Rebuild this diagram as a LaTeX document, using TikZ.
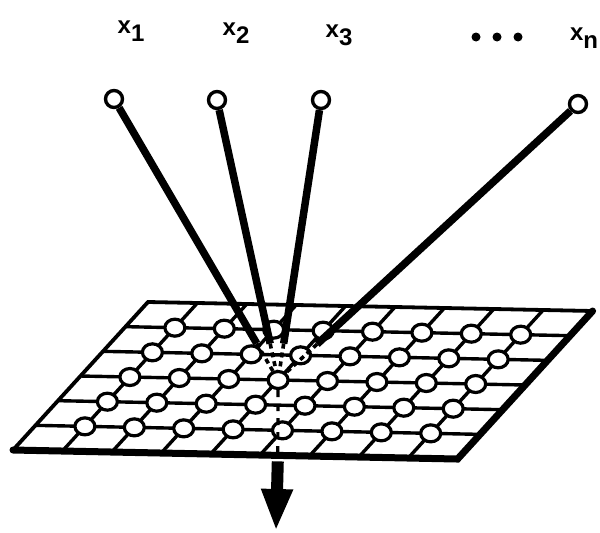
\documentclass[tikz,border=0pt]{standalone}
\usepackage{fontspec}
\setmainfont{Liberation Sans}[BoldFont={Liberation Sans Bold}]
\usetikzlibrary{arrows.meta,calc,shapes.geometric}

\newcommand{\inlab}[1]{x\raisebox{-.32em}{#1}}

\begin{document}
\begin{tikzpicture}[
  x=1pt, y=-1pt,
  gridline/.style={line width=3.4pt},
  rimthin/.style={line width=3.8pt, line cap=round},
  rimthick/.style={line width=7pt, line cap=round},
  cell/.style={ellipse, draw, fill=white, line width=3.2pt,
    minimum width=20pt, minimum height=17pt, inner sep=0pt},
  innode/.style={circle, draw, fill=white, line width=3.4pt,
    minimum size=17pt, inner sep=0pt},
  wire/.style={line width=7.5pt},
  wiredash/.style={line width=3.6pt, dash pattern=on 5pt off 4pt},
  dropdash/.style={line width=3.2pt, dash pattern=on 7pt off 7pt},
  outarrow/.style={line width=12pt, -{Triangle[length=42pt,width=29pt]}},
  inlabel/.style={font=\bfseries\fontsize{24}{28}\selectfont},
  dotmark/.style={circle, fill, minimum size=9pt, inner sep=0pt},
]
\useasboundingbox (0,0) rectangle (600,533);

% ---- the plane of units -------------------------------------------------
\begin{scope}[shift={(148,302)}, x={(49.4pt,-1pt)}, y={(-22.5pt,-24.67pt)}]
  \foreach \i in {1,...,5} \draw[gridline] (0,\i) -- (9,\i);
  \foreach \j in {1,...,8} \draw[gridline] (\j,0) -- (\j,6);
  \draw[rimthin]  (0,6) -- (0,0) -- (9,0);
  \draw[rimthick] (9,0) -- (9,6) -- (0,6);
  \foreach \j in {1,...,8}
    \foreach \i in {1,...,5}
      \node[cell] (c-\j-\i) at (\j,\i) {};
  \coordinate (drop) at (5.36,6);
\end{scope}

% ---- inputs --------------------------------------------------------------
\node[innode] (in1) at (114,99) {};
\node[innode] (in2) at (217,100) {};
\node[innode] (in3) at (321,100) {};
\node[innode] (inn) at (578,104) {};

\node[inlabel] (lab1) at (131,31) {\inlab{1}};
\node[inlabel] (lab2) at (236,33) {\inlab{2}};
\node[inlabel] (lab3) at (339,35) {\inlab{3}};
\node[inlabel] (labn) at (584,38) {\inlab{n}};
\foreach \k/\xx in {1/476, 2/497, 3/518}
  \node[dotmark] (dot\k) at (\xx,37) {};

% ---- wires into the hub ------------------------------------------------
\foreach \s in {1,2,3,n}{
  \coordinate (b\s) at ($(in\s)!0.87!(c-4-3)$);
  \draw[wire] (in\s) -- (b\s);
  \draw[wiredash] (b\s) -- (c-4-3);}

% ---- output --------------------------------------------------------------
\draw[dropdash] (c-4-3) -- (drop);
\coordinate (tip) at (276,531);
\draw[outarrow] ([yshift=-6pt]drop) -- (tip);
\end{tikzpicture}
\end{document}
